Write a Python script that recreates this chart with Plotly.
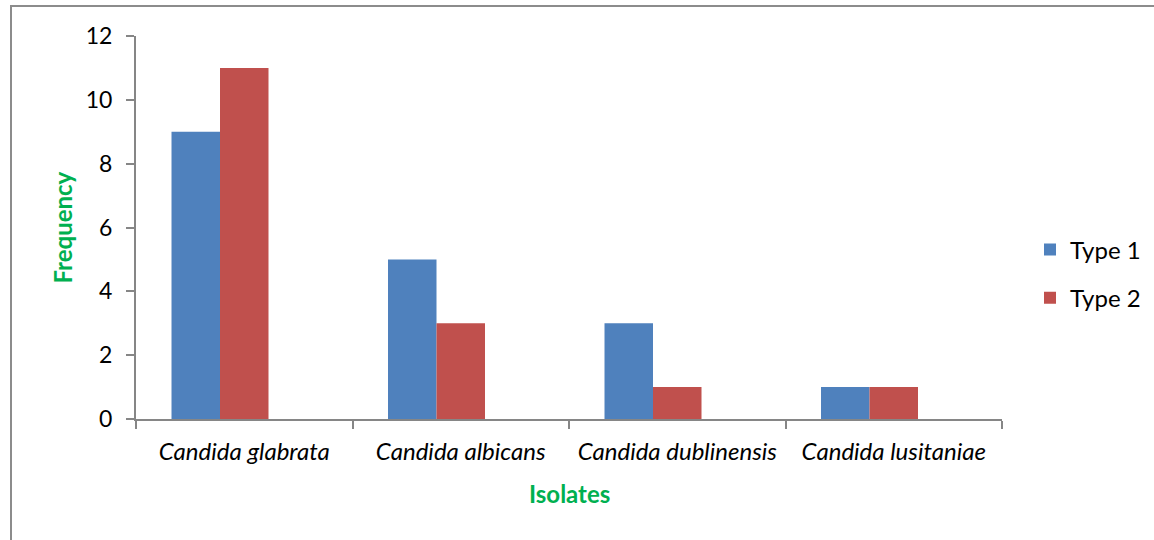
import plotly.graph_objects as go

# Isolate counts by species and type
species = ["Candida glabrata", "Candida albicans", "Candida dublinensis", "Candida lusitaniae"]
type1 = [9, 5, 3, 1]
type2 = [11, 3, 1, 1]
y_ticks = [0, 2, 4, 6, 8, 10, 12]

BLUE = "#4F81BD"
RED = "#C0504D"
GREEN = "#00B050"
AXIS = "#868686"
FONT = "Lato, 'Open Sans', sans-serif"

W, H = 1154, 540
L, R, T, B = 136, 152, 36, 121
pw, ph = W - L - R, H - T - B

# Bars sit left of each category centre, leaving room for a third (empty) slot
BAR_W = 0.224
fig = go.Figure()
fig.add_trace(go.Bar(x=species, y=type1, name="Type 1", marker_color=BLUE,
                     marker_line_width=0, width=BAR_W, offset=-0.336, legendgroup="t1"))
fig.add_trace(go.Bar(x=species, y=type2, name="Type 2", marker_color=RED,
                     marker_line_width=0, width=BAR_W, offset=-0.112, legendgroup="t2"))

fig.update_layout(
    width=W, height=H,
    margin=dict(l=L, r=R, t=T, b=B, pad=0, autoexpand=False),
    paper_bgcolor="white", plot_bgcolor="white",
    barmode="overlay",
    font=dict(family=FONT, size=24, color="black"),
    showlegend=True,
    legend=dict(x=(1030 - L) / pw, xanchor="left", y=(H - B - 274) / ph, yanchor="middle",
                font=dict(size=24, family=FONT), tracegroupgap=14,
                itemwidth=30, bgcolor="rgba(0,0,0,0)"),
)

fig.update_xaxes(
    type="category", showline=True, linecolor=AXIS, linewidth=2,
    ticks="outside", tickson="boundaries", ticklen=8, tickwidth=2, tickcolor=AXIS,
    tickfont=dict(size=24, family=FONT, style="italic"), ticklabelstandoff=10,
    showgrid=False, zeroline=False,
)
fig.update_yaxes(
    range=[0, 12], tickvals=y_ticks, showline=True, linecolor=AXIS, linewidth=2,
    ticks="outside", ticklen=8, tickwidth=2, tickcolor=AXIS,
    tickfont=dict(size=23, family=FONT), ticklabelstandoff=9,
    showgrid=False, zeroline=False,
)

# Axis titles
fig.add_annotation(text="<b>Frequency</b>", xref="paper", yref="paper",
                   x=(62 - L) / pw, y=0.5, xanchor="center", yanchor="middle",
                   textangle=-90, showarrow=False,
                   font=dict(size=24, color=GREEN, family=FONT))
fig.add_annotation(text="<b>Isolates</b>", xref="paper", yref="paper",
                   x=0.5, y=-(493 - (H - B)) / ph, xanchor="center", yanchor="middle",
                   showarrow=False, font=dict(size=24, color=GREEN, family=FONT))

# Chart border (left and top edges visible)
bx0 = (11 - L) / pw
by1 = (H - B - 6) / ph
fig.add_shape(type="rect", xref="paper", yref="paper",
              x0=bx0, x1=1.5, y0=-1.0, y1=by1,
              line=dict(color="#8C8C8C", width=2), fillcolor="rgba(0,0,0,0)", layer="below")

fig.write_html("out.html")
